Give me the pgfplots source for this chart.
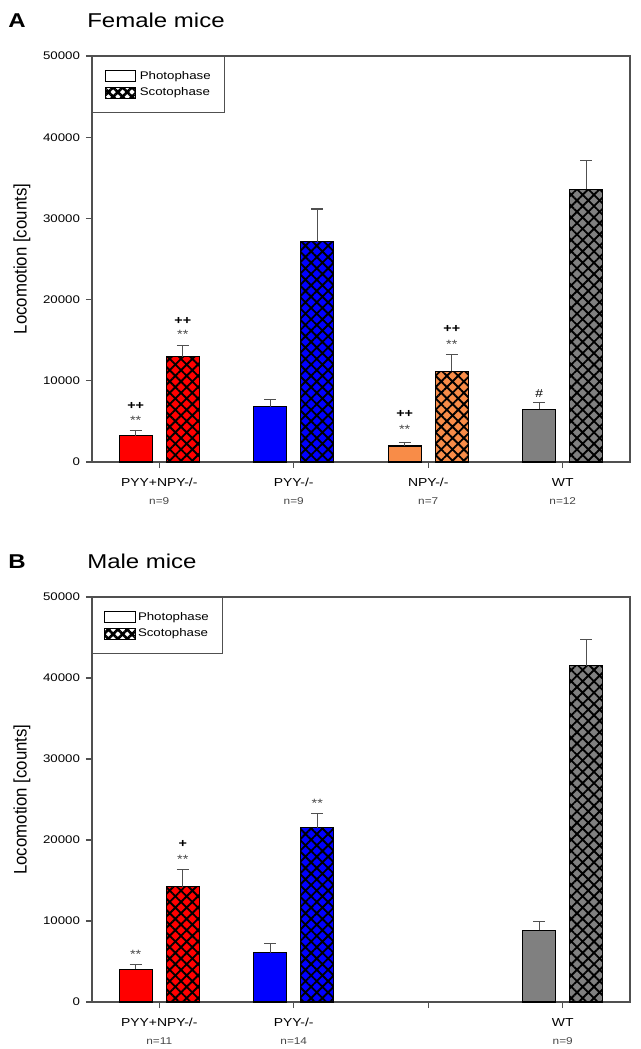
\documentclass[border=0pt]{standalone}
\usepackage{fontspec}
\setmainfont{Liberation Sans}
\usepackage{graphicx}
\usepackage{pgfplots}
\pgfplotsset{compat=1.18}
\usetikzlibrary{patterns.meta}
\newcommand{\hs}[1]{\scalebox{1.2}[1]{#1}}
\definecolor{cred}{RGB}{255,0,0}
\definecolor{cblue}{RGB}{0,0,255}
\definecolor{corange}{RGB}{248,140,72}
\definecolor{cgray}{RGB}{128,128,128}
\definecolor{axgray}{RGB}{80,80,80}
\definecolor{txgray}{RGB}{70,70,70}
\pgfplotsset{
  eb/.style={error bars/y dir=plus, error bars/y explicit,
    error bars/error mark=-,
    error bars/error bar style={axgray, line width=0.8pt},
    error bars/error mark options={rotate=90, axgray, line width=0.8pt, mark size=4.5pt}},
  photo/.style={ybar, bar width=0.245, bar shift=0pt, draw=black, line width=0.8pt, fill=#1, forget plot, eb},
  scoto/.style={ybar, bar width=0.245, bar shift=0pt, draw=black, line width=0.8pt, fill=#1, forget plot,
    postaction={pattern={Hatch[angle=45,distance=6pt,line width=1.4pt]}}, eb},
  mice/.style={
    scale only axis, width=403.5pt, anchor=north west, clip=false,
    xmin=-0.5, xmax=3.5, ymin=0, ymax=50000,
    xtick={0,1,2,3}, ytick={0,10000,20000,30000,40000,50000},
    scaled y ticks=false,
    tick align=outside, xtick pos=bottom, ytick pos=left,
    major tick length=4.5pt,
    tick style={axgray, line width=0.8pt},
    axis line style={axgray, line width=0.8pt},
    yticklabel={\hs{\pgfmathprintnumber[fixed,1000 sep={},assume math mode=true]{\tick}}},
    yticklabel style={font=\fontsize{8.3}{10}\selectfont, xshift=-1pt},
    xticklabel style={align=center, font=\fontsize{8.7}{13.5}\selectfont, yshift=-4pt},
    ylabel={\scalebox{1}[1.08]{Locomotion [counts]}},
    ylabel style={font=\fontsize{12.6}{14}\selectfont, at={(axis description cs:-0.1303,0.5)}, anchor=center},
    legend cell align=left,
    legend image code/.code={\draw[##1, line width=0.6pt] (0pt,-4pt) rectangle (23pt,4pt);},
    legend style={at={(0,1)}, anchor=north west, draw=axgray, line width=0.8pt,
      font=\fontsize{8.3}{10}\selectfont, inner xsep=8.5pt, inner ysep=9pt, row sep=1pt},
  },
}
\newcommand{\nlab}[1]{\\{\fontsize{7.4}{13.5}\selectfont\color{txgray}\hs{#1}}}
\newcommand{\legs}{%
\addlegendimage{fill=white, draw=black}
\addlegendentry{\hs{Photophase}}
\addlegendimage{fill=white, draw=black, postaction={pattern={Hatch[angle=45,distance=5pt,line width=2pt]}}}
\addlegendentry{\hs{Scotophase}}}
\begin{document}
\begin{tikzpicture}
\path[use as bounding box] (0,0) rectangle (480pt,-786.75pt);
% titles
\node[anchor=base west, inner sep=0, font=\bfseries\fontsize{15}{18}\selectfont] at (6pt,-21pt) {\hs{A}};
\node[anchor=base west, inner sep=0, font=\fontsize{15}{18}\selectfont] at (65.25pt,-21pt) {\hs{Female mice}};
\node[anchor=base west, inner sep=0, font=\bfseries\fontsize{15}{18}\selectfont] at (6pt,-426pt) {\hs{B}};
\node[anchor=base west, inner sep=0, font=\fontsize{15}{18}\selectfont] at (65.25pt,-426pt) {\hs{Male mice}};

% Panel A
\begin{axis}[mice, at={(69pt,-42pt)}, height=304.5pt,
  xticklabels={{\hs{PYY+NPY-/-}\nlab{n=9}},{\hs{PYY-/-}\nlab{n=9}},{\hs{NPY-/-}\nlab{n=7}},{\hs{WT}\nlab{n=12}}}]
\legs
\addplot[photo=cred] coordinates {(-0.175,3240) +- (0,600)};
\addplot[scoto=cred] coordinates {(0.175,12970) +- (0,1350)};
\addplot[photo=cblue] coordinates {(0.825,6810) +- (0,900)};
\addplot[scoto=cblue] coordinates {(1.175,27130) +- (0,4030)};
\addplot[photo=corange] coordinates {(1.825,1970) +- (0,450)};
\addplot[scoto=corange] coordinates {(2.175,11200) +- (0,2000)};
\addplot[photo=cgray] coordinates {(2.825,6490) +- (0,860)};
\addplot[scoto=cgray] coordinates {(3.175,33580) +- (0,3530)};
% annotations
\node[font=\fontsize{9}{10}\selectfont, text=txgray] at (axis cs:-0.175,5100) {\hs{**}};
\node[font=\bfseries\fontsize{9}{10}\selectfont] at (axis cs:-0.175,6900) {\hs{++}};
\node[font=\fontsize{9}{10}\selectfont, text=txgray] at (axis cs:0.175,15690) {\hs{**}};
\node[font=\bfseries\fontsize{9}{10}\selectfont] at (axis cs:0.175,17360) {\hs{++}};
\node[font=\fontsize{9}{10}\selectfont, text=txgray] at (axis cs:1.825,4030) {\hs{**}};
\node[font=\bfseries\fontsize{9}{10}\selectfont] at (axis cs:1.825,5870) {\hs{++}};
\node[font=\fontsize{9}{10}\selectfont, text=txgray] at (axis cs:2.175,14540) {\hs{**}};
\node[font=\bfseries\fontsize{9}{10}\selectfont] at (axis cs:2.175,16340) {\hs{++}};
\node[font=\fontsize{8.6}{10}\selectfont] at (axis cs:2.825,8460) {\hs{\#}};
\end{axis}

% Panel B
\begin{axis}[mice, at={(69pt,-447.75pt)}, height=303.75pt,
  xticklabels={{\hs{PYY+NPY-/-}\nlab{n=11}},{\hs{PYY-/-}\nlab{n=14}},{},{\hs{WT}\nlab{n=9}}}]
\legs
\addplot[photo=cred] coordinates {(-0.175,4040) +- (0,620)};
\addplot[scoto=cred] coordinates {(0.175,14230) +- (0,2150)};
\addplot[photo=cblue] coordinates {(0.825,6090) +- (0,1150)};
\addplot[scoto=cblue] coordinates {(1.175,21520) +- (0,1730)};
\addplot[photo=cgray] coordinates {(2.825,8850) +- (0,1070)};
\addplot[scoto=cgray] coordinates {(3.175,41520) +- (0,3210)};
\node[font=\fontsize{9}{10}\selectfont, text=txgray] at (axis cs:-0.175,5940) {\hs{**}};
\node[font=\fontsize{9}{10}\selectfont, text=txgray] at (axis cs:0.175,17620) {\hs{**}};
\node[font=\bfseries\fontsize{9}{10}\selectfont] at (axis cs:0.175,19510) {\hs{+}};
\node[font=\fontsize{9}{10}\selectfont, text=txgray] at (axis cs:1.175,24530) {\hs{**}};
\end{axis}
\end{tikzpicture}
\end{document}
